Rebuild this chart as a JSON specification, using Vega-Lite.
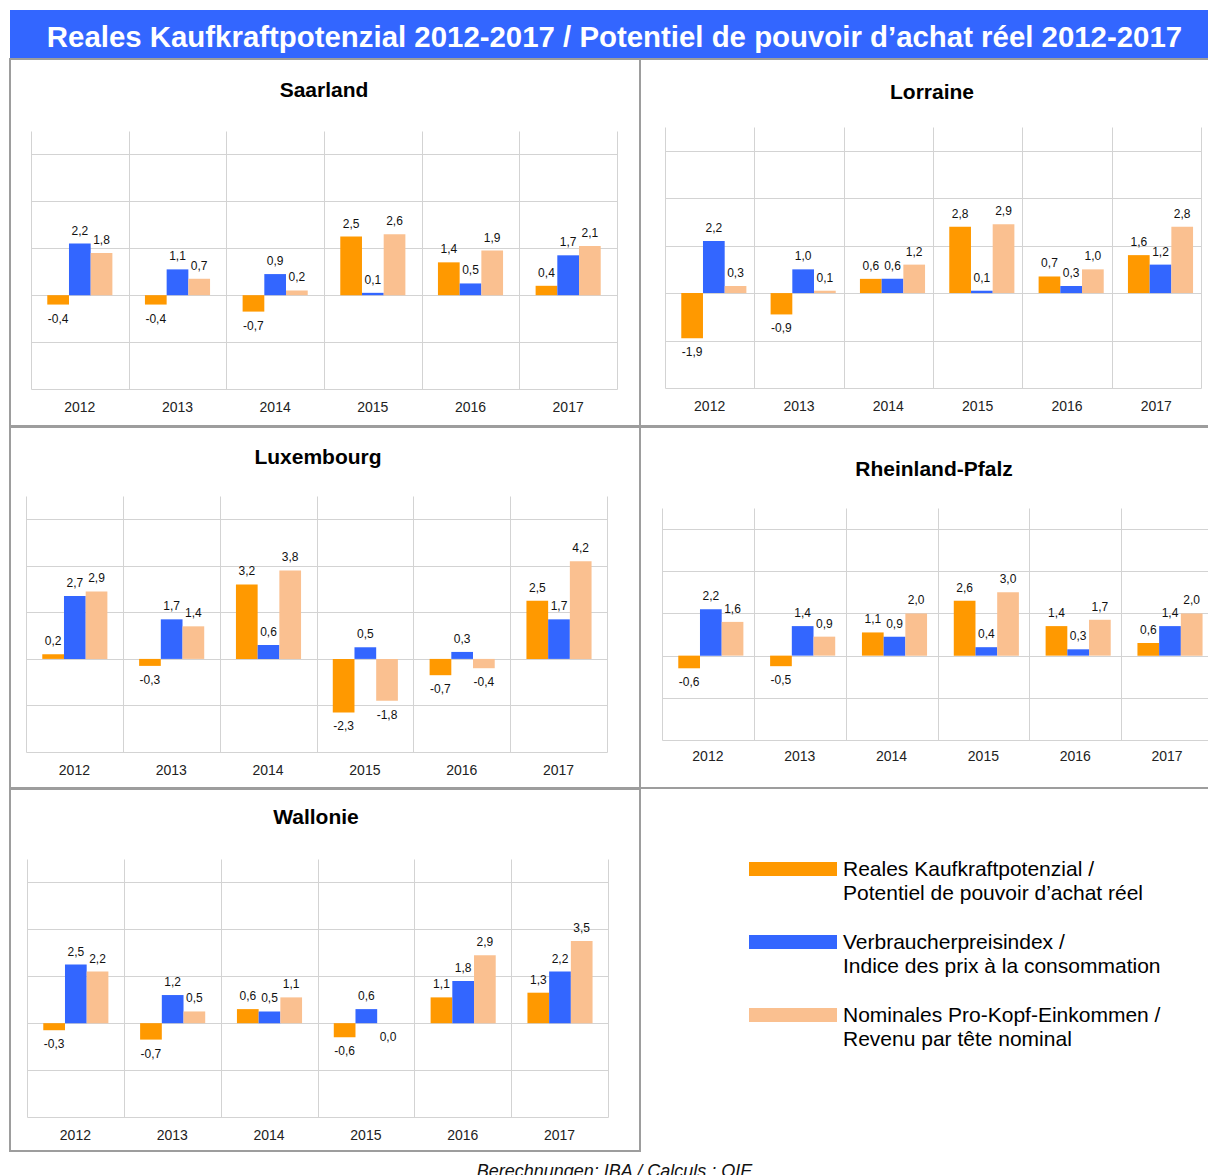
{
  "$schema": "https://vega.github.io/schema/vega-lite/v6.json",
  "padding": {"left": 9, "top": 10, "right": -2, "bottom": -16},
  "background": "white",
  "spacing": -2,
  "config": {
    "font": "Liberation Sans",
    "view": {"stroke": "#9d9d9d", "strokeWidth": 2},
    "title": {"fontSize": 21, "fontWeight": "bold", "color": "#000", "anchor": "middle", "frame": "group", "baseline": "middle"},
    "locale": {"number": {"decimal": ",", "thousands": ".", "grouping": [3], "currency": ["", " €"], "minus": "-"}}
  },
  "datasets": {
    "d": [
      {"r": "Saarland", "t": "2012", "real": -0.4, "cpi": 2.2, "nom": 1.8},
      {"r": "Saarland", "t": "2013", "real": -0.4, "cpi": 1.1, "nom": 0.7},
      {"r": "Saarland", "t": "2014", "real": -0.7, "cpi": 0.9, "nom": 0.2},
      {"r": "Saarland", "t": "2015", "real": 2.5, "cpi": 0.1, "nom": 2.6},
      {"r": "Saarland", "t": "2016", "real": 1.4, "cpi": 0.5, "nom": 1.9},
      {"r": "Saarland", "t": "2017", "real": 0.4, "cpi": 1.7, "nom": 2.1},
      {"r": "Lorraine", "t": "2012", "real": -1.9, "cpi": 2.2, "nom": 0.3},
      {"r": "Lorraine", "t": "2013", "real": -0.9, "cpi": 1.0, "nom": 0.1},
      {"r": "Lorraine", "t": "2014", "real": 0.6, "cpi": 0.6, "nom": 1.2},
      {"r": "Lorraine", "t": "2015", "real": 2.8, "cpi": 0.1, "nom": 2.9},
      {"r": "Lorraine", "t": "2016", "real": 0.7, "cpi": 0.3, "nom": 1.0},
      {"r": "Lorraine", "t": "2017", "real": 1.6, "cpi": 1.2, "nom": 2.8},
      {"r": "Luxembourg", "t": "2012", "real": 0.2, "cpi": 2.7, "nom": 2.9},
      {"r": "Luxembourg", "t": "2013", "real": -0.3, "cpi": 1.7, "nom": 1.4},
      {"r": "Luxembourg", "t": "2014", "real": 3.2, "cpi": 0.6, "nom": 3.8},
      {"r": "Luxembourg", "t": "2015", "real": -2.3, "cpi": 0.5, "nom": -1.8},
      {"r": "Luxembourg", "t": "2016", "real": -0.7, "cpi": 0.3, "nom": -0.4},
      {"r": "Luxembourg", "t": "2017", "real": 2.5, "cpi": 1.7, "nom": 4.2},
      {"r": "Rheinland-Pfalz", "t": "2012", "real": -0.6, "cpi": 2.2, "nom": 1.6},
      {"r": "Rheinland-Pfalz", "t": "2013", "real": -0.5, "cpi": 1.4, "nom": 0.9},
      {"r": "Rheinland-Pfalz", "t": "2014", "real": 1.1, "cpi": 0.9, "nom": 2.0},
      {"r": "Rheinland-Pfalz", "t": "2015", "real": 2.6, "cpi": 0.4, "nom": 3.0},
      {"r": "Rheinland-Pfalz", "t": "2016", "real": 1.4, "cpi": 0.3, "nom": 1.7},
      {"r": "Rheinland-Pfalz", "t": "2017", "real": 0.6, "cpi": 1.4, "nom": 2.0},
      {"r": "Wallonie", "t": "2012", "real": -0.3, "cpi": 2.5, "nom": 2.2},
      {"r": "Wallonie", "t": "2013", "real": -0.7, "cpi": 1.2, "nom": 0.5},
      {"r": "Wallonie", "t": "2014", "real": 0.6, "cpi": 0.5, "nom": 1.1},
      {"r": "Wallonie", "t": "2015", "real": -0.6, "cpi": 0.6, "nom": 0.0},
      {"r": "Wallonie", "t": "2016", "real": 1.1, "cpi": 1.8, "nom": 2.9},
      {"r": "Wallonie", "t": "2017", "real": 1.3, "cpi": 2.2, "nom": 3.5}
    ]
  },
  "vconcat": [
    {
      "width": 1199, "height": 49,
      "view": {"fill": "#3366FF"},
      "data": {"values": [{"t": "Reales Kaufkraftpotenzial 2012-2017 / Potentiel de pouvoir d’achat réel 2012-2017"}]},
      "mark": {"type": "text", "color": "white", "fontSize": 29.4, "fontWeight": "bold", "dy": 3, "dx": 5},
      "encoding": {"text": {"field": "t", "type": "nominal"}}
    },
    {
      "hconcat": [
        {
          "width": 630, "height": 367,
          "title": {"text": "Saarland", "offset": -42, "dx": -1},
          "data": {"name": "d"},
          "transform": [{"filter": "datum.r === 'Saarland'"}, {"fold": ["real", "cpi", "nom"], "as": ["s", "v"]}],
          "encoding": {
            "xOffset": {"field": "s", "type": "nominal", "sort": ["real", "cpi", "nom"], "scale": {"paddingInner": 0, "paddingOuter": 0.75}},
            "y": {"field": "v", "type": "quantitative", "scale": {"domain": [-4, 7], "range": [330, 72], "nice": false, "zero": false},
                  "axis": {"title": null, "values": [-4, -2, 0, 2, 4, 6], "labels": false, "ticks": false, "domain": false, "grid": true, "gridColor": "#d3d3d3"}}
          },
          "layer": [
            {"mark": "bar", "encoding": {
              "x": {"field": "t", "type": "nominal", "scale": {"range": [21, 607], "paddingInner": 0, "paddingOuter": 0},
                    "axis": {"orient": "top", "title": null, "tickBand": "extent", "grid": true, "gridColor": "#d3d3d3", "domain": false, "ticks": false, "labels": false}},
              "color": {"field": "s", "type": "nominal",
              "scale": {"domain": ["real", "cpi", "nom"], "range": ["#FF9900", "#3366FF", "#FAC090"]},
              "legend": {"orient": "none", "legendX": 739, "legendY": 838, "title": null, "padding": 0,
                "symbolType": "M-1,0.27H7V1.55H-1Z", "symbolSize": 484, "symbolStrokeWidth": 0, "symbolOpacity": 1,
                "labelOffset": 72, "labelFontSize": 21, "labelColor": "#000", "labelBaseline": "top", "labelLimit": 1000,
                "rowPadding": 17,
                "labelExpr": "datum.value === 'real' ? ['Reales Kaufkraftpotenzial /', 'Potentiel de pouvoir d’achat réel'] : datum.value === 'cpi' ? ['Verbraucherpreisindex /', 'Indice des prix à la consommation'] : ['Nominales Pro-Kopf-Einkommen /', 'Revenu par tête nominal']",
                "encode": {"labels": {"update": {"lineHeight": {"value": 24}}}}}}}},
            {"transform": [{"filter": "datum.v > 0"}], "mark": {"type": "text", "dy": -13, "fontSize": 12, "color": "#111"}, "encoding": {
              "x": {"field": "t", "type": "nominal", "scale": {"range": [21, 607], "paddingInner": 0, "paddingOuter": 0},
                    "axis": {"orient": "bottom", "title": null, "grid": false, "domain": false, "ticks": false, "labelAngle": 0, "labelPadding": -26, "labelFontSize": 14, "labelColor": "#222"}},
              "text": {"field": "v", "type": "quantitative", "format": ".1f"}}},
            {"transform": [{"filter": "datum.v <= 0"}], "mark": {"type": "text", "dy": 14, "fontSize": 12, "color": "#111"}, "encoding": {
              "x": {"field": "t", "type": "nominal", "scale": {"range": [21, 607], "paddingInner": 0, "paddingOuter": 0}, "axis": null},
              "text": {"field": "v", "type": "quantitative", "format": ".1f"}}}
          ],
          "resolve": {"axis": {"x": "independent"}}
        },
        {
          "width": 569, "height": 367,
          "title": {"text": "Lorraine", "offset": -44, "dx": 7.5},
          "data": {"name": "d"},
          "transform": [{"filter": "datum.r === 'Lorraine'"}, {"fold": ["real", "cpi", "nom"], "as": ["s", "v"]}],
          "encoding": {
            "xOffset": {"field": "s", "type": "nominal", "sort": ["real", "cpi", "nom"], "scale": {"paddingInner": 0, "paddingOuter": 0.75}},
            "y": {"field": "v", "type": "quantitative", "scale": {"domain": [-4, 7], "range": [329, 68], "nice": false, "zero": false},
                  "axis": {"title": null, "values": [-4, -2, 0, 2, 4, 6], "labels": false, "ticks": false, "domain": false, "grid": true, "gridColor": "#d3d3d3"}}
          },
          "layer": [
            {"mark": "bar", "encoding": {
              "x": {"field": "t", "type": "nominal", "scale": {"range": [25, 561], "paddingInner": 0, "paddingOuter": 0},
                    "axis": {"orient": "top", "title": null, "tickBand": "extent", "grid": true, "gridColor": "#d3d3d3", "domain": false, "ticks": false, "labels": false}},
              "color": {"field": "s", "type": "nominal", "scale": {"domain": ["real", "cpi", "nom"], "range": ["#FF9900", "#3366FF", "#FAC090"]}}}},
            {"transform": [{"filter": "datum.v > 0"}], "mark": {"type": "text", "dy": -13, "fontSize": 12, "color": "#111"}, "encoding": {
              "x": {"field": "t", "type": "nominal", "scale": {"range": [25, 561], "paddingInner": 0, "paddingOuter": 0},
                    "axis": {"orient": "bottom", "title": null, "grid": false, "domain": false, "ticks": false, "labelAngle": 0, "labelPadding": -27, "labelFontSize": 14, "labelColor": "#222"}},
              "text": {"field": "v", "type": "quantitative", "format": ".1f"}}},
            {"transform": [{"filter": "datum.v <= 0"}], "mark": {"type": "text", "dy": 14, "fontSize": 12, "color": "#111"}, "encoding": {
              "x": {"field": "t", "type": "nominal", "scale": {"range": [25, 561], "paddingInner": 0, "paddingOuter": 0}, "axis": null},
              "text": {"field": "v", "type": "quantitative", "format": ".1f"}}}
          ],
          "resolve": {"axis": {"x": "independent"}}
        }
      ],
      "spacing": 0, "bounds": "flush"
    },
    {
      "hconcat": [
        {
          "width": 630, "height": 361,
          "title": {"text": "Luxembourg", "offset": -41, "dx": -7},
          "data": {"name": "d"},
          "transform": [{"filter": "datum.r === 'Luxembourg'"}, {"fold": ["real", "cpi", "nom"], "as": ["s", "v"]}],
          "encoding": {
            "xOffset": {"field": "s", "type": "nominal", "sort": ["real", "cpi", "nom"], "scale": {"paddingInner": 0, "paddingOuter": 0.75}},
            "y": {"field": "v", "type": "quantitative", "scale": {"domain": [-4, 7], "range": [325, 69], "nice": false, "zero": false},
                  "axis": {"title": null, "values": [-4, -2, 0, 2, 4, 6], "labels": false, "ticks": false, "domain": false, "grid": true, "gridColor": "#d3d3d3"}}
          },
          "layer": [
            {"mark": "bar", "encoding": {
              "x": {"field": "t", "type": "nominal", "scale": {"range": [16, 597], "paddingInner": 0, "paddingOuter": 0},
                    "axis": {"orient": "top", "title": null, "tickBand": "extent", "grid": true, "gridColor": "#d3d3d3", "domain": false, "ticks": false, "labels": false}},
              "color": {"field": "s", "type": "nominal", "scale": {"domain": ["real", "cpi", "nom"], "range": ["#FF9900", "#3366FF", "#FAC090"]}}}},
            {"transform": [{"filter": "datum.v > 0"}], "mark": {"type": "text", "dy": -13, "fontSize": 12, "color": "#111"}, "encoding": {
              "x": {"field": "t", "type": "nominal", "scale": {"range": [16, 597], "paddingInner": 0, "paddingOuter": 0},
                    "axis": {"orient": "bottom", "title": null, "grid": false, "domain": false, "ticks": false, "labelAngle": 0, "labelPadding": -25, "labelFontSize": 14, "labelColor": "#222"}},
              "text": {"field": "v", "type": "quantitative", "format": ".1f"}}},
            {"transform": [{"filter": "datum.v <= 0"}], "mark": {"type": "text", "dy": 14, "fontSize": 12, "color": "#111"}, "encoding": {
              "x": {"field": "t", "type": "nominal", "scale": {"range": [16, 597], "paddingInner": 0, "paddingOuter": 0}, "axis": null},
              "text": {"field": "v", "type": "quantitative", "format": ".1f"}}}
          ],
          "resolve": {"axis": {"x": "independent"}}
        },
        {
          "width": 569, "height": 361,
          "title": {"text": "Rheinland-Pfalz", "offset": -53, "dx": 9.5},
          "data": {"name": "d"},
          "transform": [{"filter": "datum.r === 'Rheinland-Pfalz'"}, {"fold": ["real", "cpi", "nom"], "as": ["s", "v"]}],
          "encoding": {
            "xOffset": {"field": "s", "type": "nominal", "sort": ["real", "cpi", "nom"], "scale": {"paddingInner": 0, "paddingOuter": 0.75}},
            "y": {"field": "v", "type": "quantitative", "scale": {"domain": [-4, 7], "range": [313, 81], "nice": false, "zero": false},
                  "axis": {"title": null, "values": [-4, -2, 0, 2, 4, 6], "labels": false, "ticks": false, "domain": false, "grid": true, "gridColor": "#d3d3d3"}}
          },
          "layer": [
            {"mark": "bar", "encoding": {
              "x": {"field": "t", "type": "nominal", "scale": {"range": [22, 573], "paddingInner": 0, "paddingOuter": 0},
                    "axis": {"orient": "top", "title": null, "tickBand": "extent", "grid": true, "gridColor": "#d3d3d3", "domain": false, "ticks": false, "labels": false}},
              "color": {"field": "s", "type": "nominal", "scale": {"domain": ["real", "cpi", "nom"], "range": ["#FF9900", "#3366FF", "#FAC090"]}}}},
            {"transform": [{"filter": "datum.v > 0"}], "mark": {"type": "text", "dy": -13, "fontSize": 12, "color": "#111"}, "encoding": {
              "x": {"field": "t", "type": "nominal", "scale": {"range": [22, 573], "paddingInner": 0, "paddingOuter": 0},
                    "axis": {"orient": "bottom", "title": null, "grid": false, "domain": false, "ticks": false, "labelAngle": 0, "labelPadding": -39, "labelFontSize": 14, "labelColor": "#222"}},
              "text": {"field": "v", "type": "quantitative", "format": ".1f"}}},
            {"transform": [{"filter": "datum.v <= 0"}], "mark": {"type": "text", "dy": 14, "fontSize": 12, "color": "#111"}, "encoding": {
              "x": {"field": "t", "type": "nominal", "scale": {"range": [22, 573], "paddingInner": 0, "paddingOuter": 0}, "axis": null},
              "text": {"field": "v", "type": "quantitative", "format": ".1f"}}}
          ],
          "resolve": {"axis": {"x": "independent"}}
        }
      ],
      "spacing": 0, "bounds": "flush"
    },
    {
      "hconcat": [
        {
          "width": 630, "height": 362,
          "title": {"text": "Wallonie", "offset": -39, "dx": -9},
          "data": {"name": "d"},
          "transform": [{"filter": "datum.r === 'Wallonie'"}, {"fold": ["real", "cpi", "nom"], "as": ["s", "v"]}],
          "encoding": {
            "xOffset": {"field": "s", "type": "nominal", "sort": ["real", "cpi", "nom"], "scale": {"paddingInner": 0, "paddingOuter": 0.75}},
            "y": {"field": "v", "type": "quantitative", "scale": {"domain": [-4, 7], "range": [328, 70], "nice": false, "zero": false},
                  "axis": {"title": null, "values": [-4, -2, 0, 2, 4, 6], "labels": false, "ticks": false, "domain": false, "grid": true, "gridColor": "#d3d3d3"}}
          },
          "layer": [
            {"mark": "bar", "encoding": {
              "x": {"field": "t", "type": "nominal", "scale": {"range": [17, 598], "paddingInner": 0, "paddingOuter": 0},
                    "axis": {"orient": "top", "title": null, "tickBand": "extent", "grid": true, "gridColor": "#d3d3d3", "domain": false, "ticks": false, "labels": false}},
              "color": {"field": "s", "type": "nominal", "scale": {"domain": ["real", "cpi", "nom"], "range": ["#FF9900", "#3366FF", "#FAC090"]}}}},
            {"transform": [{"filter": "datum.v > 0"}], "mark": {"type": "text", "dy": -13, "fontSize": 12, "color": "#111"}, "encoding": {
              "x": {"field": "t", "type": "nominal", "scale": {"range": [17, 598], "paddingInner": 0, "paddingOuter": 0},
                    "axis": {"orient": "bottom", "title": null, "grid": false, "domain": false, "ticks": false, "labelAngle": 0, "labelPadding": -23, "labelFontSize": 14, "labelColor": "#222"}},
              "text": {"field": "v", "type": "quantitative", "format": ".1f"}}},
            {"transform": [{"filter": "datum.v <= 0"}], "mark": {"type": "text", "dy": 14, "fontSize": 12, "color": "#111"}, "encoding": {
              "x": {"field": "t", "type": "nominal", "scale": {"range": [17, 598], "paddingInner": 0, "paddingOuter": 0}, "axis": null},
              "text": {"field": "v", "type": "quantitative", "format": ".1f"}}}
          ],
          "resolve": {"axis": {"x": "independent"}}
        },
        {
          "width": 569, "height": 362,
          "data": {"values": [{}]},
          "mark": {"type": "text", "text": ""}
        }
      ],
      "spacing": 0, "bounds": "flush"
    },
    {
      "width": 1199, "height": 40,
      "data": {"values": [{"t": "Berechnungen: IBA / Calculs : OIE"}]},
      "mark": {"type": "text", "fontSize": 18, "fontStyle": "italic", "color": "#111", "dx": 5},
      "encoding": {"text": {"field": "t", "type": "nominal"}}
    }
  ]
}
